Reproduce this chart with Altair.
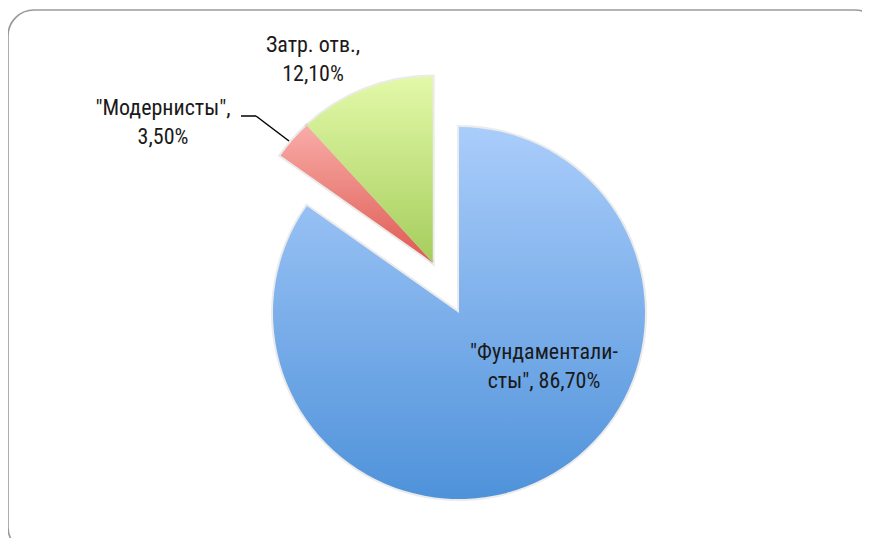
import math
import altair as alt
import pandas as pd

# ---- data ----
categories = ['"Фундаменталисты"', '"Модернисты"', 'Затр. отв.']
values = [86.7, 3.5, 12.1]
label_lines = ['"Фундаментали-\nсты", 86,70%', '"Модернисты",\n3,50%', 'Затр. отв.,\n12,10%']
exploded = ['"Модернисты"', 'Затр. отв.']

df = pd.DataFrame({
    "cat": categories,
    "value": values,
    "label": label_lines,
    "order": list(range(len(categories))),
    "ex": [1 if c in exploded else 0 for c in categories],
})

W, H = 854, 530
CX, CY = 451, 305       # pie centre inside the view
R = 186                 # pie radius
D = 57                  # explode distance
first_frac = values[0] / sum(values)
DIR = (2 * math.pi * first_frac + 2 * math.pi) / 2   # mid-angle of exploded group

FONT = "'Liberation Sans Narrow', 'Roboto Condensed', 'DejaVu Sans Condensed', Roboto, sans-serif"

base = alt.Chart(df).transform_window(
    cum="sum(value)", sort=[alt.SortField("order", order="ascending")], frame=[None, 0]
).transform_joinaggregate(
    total="sum(value)"
).transform_calculate(
    t1="2*PI*datum.cum/datum.total",
    t0="2*PI*(datum.cum-datum.value)/datum.total",
    cx=f"{CX} + datum.ex*{D}*sin({DIR})",
    cy=f"{CY} - datum.ex*{D}*cos({DIR})",
)

enc = dict(
    theta=alt.Theta("t0:Q", scale=None, stack=False),
    theta2=alt.Theta2("t1:Q"),
    x=alt.X("cx:Q", scale=None, axis=None),
    y=alt.Y("cy:Q", scale=None, axis=None),
)

def grad(top, bottom):
    return alt.LinearGradient(
        gradient="linear", x1=0, x2=0, y1=0, y2=1,
        stops=[alt.GradientStop(color=top, offset=0),
               alt.GradientStop(color=bottom, offset=1)],
    )

colors = {
    categories[0]: grad("#aacdfb", "#4f92da"),
    categories[1]: grad("#f9aca8", "#de5a52"),
    categories[2]: grad("#e3f9a9", "#a5cd5c"),
}

shadow = base.mark_arc(radius=R, fill="#000000", fillOpacity=0.0,
                       stroke="#7a7a7a", strokeOpacity=0.15, strokeWidth=4).encode(**enc)

slices = [
    base.transform_filter(alt.datum.cat == c).mark_arc(radius=R, fill=colors[c]).encode(**enc)
    for c in categories
]

label_pos = {
    categories[0]: (536, 351),
    categories[1]: (155, 107),
    categories[2]: (305, 44),
}
labels = [
    base.transform_filter(alt.datum.cat == c).mark_text(
        font=FONT, fontSize=22, color="#1a1a1a", align="center",
        baseline="alphabetic", lineBreak="\n", lineHeight=29,
    ).encode(x=alt.value(label_pos[c][0]), y=alt.value(label_pos[c][1]), text="label:N")
    for c in categories
]

one = alt.Data(values=[{}])
leader1 = alt.Chart(one).mark_rule(color="#000000", strokeWidth=1.5).encode(
    x=alt.value(233), x2=alt.value(248), y=alt.value(108), y2=alt.value(108))
leader2 = alt.Chart(one).mark_rule(color="#000000", strokeWidth=1.5).encode(
    x=alt.value(248), x2=alt.value(281), y=alt.value(108), y2=alt.value(133))

border = alt.Chart(one).mark_rect(
    cornerRadius=26, fill=None, stroke="#9a9a9a", strokeWidth=1.6, clip=True
).encode(x=alt.value(0), x2=alt.value(873), y=alt.value(2), y2=alt.value(545))

chart = alt.layer(border, shadow, *slices, leader1, leader2, *labels).properties(
    width=W, height=H, padding=0, autosize="none"
).configure_view(stroke=None)

chart.save("out.html", embed_options={"renderer": "svg", "actions": False})
